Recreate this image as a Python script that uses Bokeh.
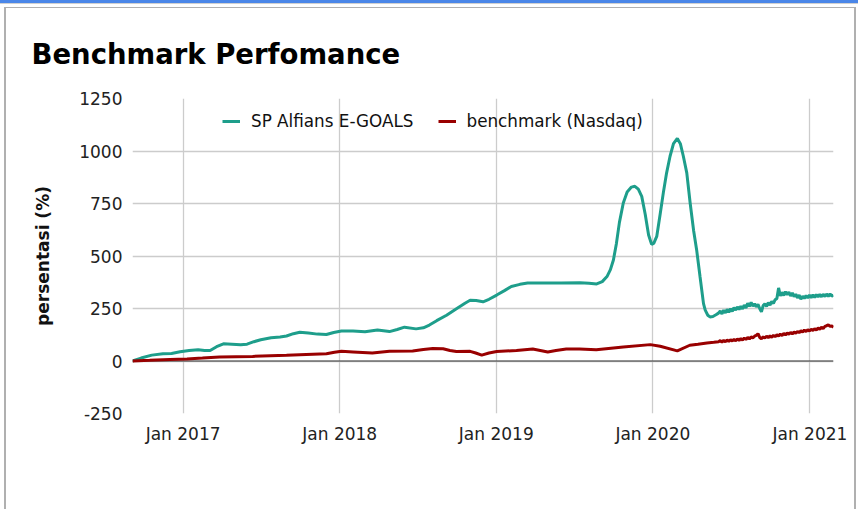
import pandas as pd
from bokeh.plotting import figure
from bokeh.models import (FixedTicker, DatetimeTickFormatter, Span, Legend, LegendItem)
from bokeh.embed import file_html
from bokeh.resources import INLINE

TITLE = "Benchmark Perfomance"
Y_LABEL = "persentasi (%)"
FUND_NAME = "SP Alfians E-GOALS"
BENCH_NAME = "benchmark (Nasdaq)"

Y_TICKS = [-250, 0, 250, 500, 750, 1000, 1250]
X_TICK_DATES = ["2017-01-01", "2018-01-01", "2019-01-01", "2020-01-01", "2021-01-01"]
X_START, X_END = "2016-09-05", "2021-02-25"

# fund, smooth part
fund_dates = [
    "2016-09-05", "2016-09-25", "2016-10-20", "2016-11-15", "2016-12-05", "2016-12-25",
    "2017-01-15", "2017-02-05", "2017-02-20", "2017-03-05", "2017-03-20", "2017-04-05",
    "2017-04-25", "2017-05-15", "2017-05-30", "2017-06-15", "2017-07-01", "2017-07-25",
    "2017-08-15", "2017-08-30", "2017-09-15", "2017-09-30", "2017-10-20", "2017-11-10",
    "2017-12-01", "2017-12-18", "2018-01-05", "2018-02-01", "2018-03-01", "2018-03-30",
    "2018-04-27", "2018-05-15", "2018-06-01", "2018-06-28", "2018-07-15", "2018-07-29",
    "2018-08-15", "2018-09-07", "2018-10-01", "2018-10-20", "2018-11-01", "2018-11-15",
    "2018-12-01", "2018-12-15", "2019-01-02", "2019-01-20", "2019-02-05", "2019-02-25",
    "2019-03-15", "2019-04-15", "2019-06-01", "2019-07-15", "2019-08-05", "2019-08-23",
    "2019-09-05", "2019-09-16", "2019-09-24", "2019-10-01", "2019-10-08", "2019-10-15",
    "2019-10-24", "2019-11-02", "2019-11-12", "2019-11-20", "2019-11-28", "2019-12-06",
    "2019-12-14", "2019-12-22", "2019-12-29", "2020-01-03", "2020-01-10", "2020-01-18",
    "2020-01-26", "2020-02-02", "2020-02-10", "2020-02-18", "2020-02-27", "2020-03-05",
    "2020-03-12", "2020-03-20", "2020-03-28", "2020-04-05", "2020-04-12", "2020-04-20",
    "2020-04-28", "2020-05-02", "2020-05-08", "2020-05-13", "2020-05-20", "2020-05-27",
]
fund_values = [
    0, 14, 28, 34, 36, 44,
    50, 54, 50, 50, 68, 82,
    80, 77, 80, 92, 101, 111,
    114, 119, 130, 137, 133, 128,
    126, 136, 143, 143, 139, 148,
    140, 150, 161, 153, 158, 171,
    192, 218, 250, 275, 289, 288,
    282, 294, 314, 335, 355, 365,
    371, 372, 372, 373, 370, 367,
    378, 402, 435, 481, 560, 660,
    752, 805, 828, 832, 818, 784,
    700, 600, 556, 560, 593, 700,
    810, 896, 975, 1035, 1060, 1035,
    975, 896, 750, 620, 529, 400,
    273, 242, 218, 210, 212, 220,
]
# fund, noisy part (Jun 2020 - Feb 2021), read every ~4 days
fund_noisy_values = [
    228, 238, 224, 242, 229, 246, 232, 249, 236, 254,
    242, 258, 245, 261, 248, 266, 253, 275, 260, 279,
    262, 272, 258, 270, 250, 234, 264, 272, 260, 278,
    266, 284, 274, 292, 298, 348, 310, 327, 312, 330,
    316, 328, 310, 324, 306, 318, 300, 314, 294, 308,
    298, 312, 300, 314, 302, 315, 303, 316, 305, 317,
    306, 318, 307, 319, 308, 320, 309, 314,
]

bench_dates = [
    "2016-09-05", "2016-10-15", "2016-12-01", "2017-01-10", "2017-02-15", "2017-03-27",
    "2017-06-12", "2017-08-30", "2017-10-15", "2017-12-01", "2017-12-20", "2018-01-05",
    "2018-02-01", "2018-03-18", "2018-04-27", "2018-06-20", "2018-07-15", "2018-08-06",
    "2018-08-30", "2018-09-15", "2018-09-30", "2018-11-01", "2018-11-14", "2018-11-28",
    "2018-12-15", "2019-01-02", "2019-02-17", "2019-03-27", "2019-05-01", "2019-05-20",
    "2019-06-13", "2019-07-14", "2019-08-22", "2019-10-24", "2019-12-26", "2020-01-18",
    "2020-02-27", "2020-03-27", "2020-04-15", "2020-05-06", "2020-05-22",
]
bench_values = [
    0, 3, 7, 10, 14, 19,
    22, 27, 31, 35, 42, 46,
    43, 38, 46, 48, 55, 59,
    58, 50, 45, 46, 38, 28,
    38, 45, 50, 57, 43, 50,
    57, 57, 54, 67, 78, 70,
    48, 75, 80, 86, 89,
]
bench_noisy_values = [
    92, 97, 90, 98, 92, 100, 93, 101, 95, 103,
    96, 105, 98, 107, 100, 109, 103, 112, 105, 115,
    110, 118, 122, 130, 112, 106, 115, 109, 118, 111,
    120, 113, 122, 116, 125, 119, 128, 121, 131, 124,
    134, 127, 136, 129, 138, 132, 141, 135, 144, 138,
    147, 140, 149, 143, 151, 145, 154, 148, 157, 151,
    161, 155, 165, 168, 172, 165, 167, 160,
]
NOISY_START, NOISY_END = "2020-06-02", "2021-02-25"

FUND_COLOR = "#1e9e8b"
BENCH_COLOR = "#990000"
FONT = "DejaVu Sans"

fund_x = list(pd.to_datetime(fund_dates)) + list(
    pd.date_range(NOISY_START, NOISY_END, periods=len(fund_noisy_values)))
fund_y = fund_values + fund_noisy_values
bench_x = list(pd.to_datetime(bench_dates)) + list(
    pd.date_range(NOISY_START, NOISY_END, periods=len(bench_noisy_values)))
bench_y = bench_values + bench_noisy_values

p = figure(width=858, height=509, x_axis_type="datetime",
           x_range=(pd.Timestamp(X_START), pd.Timestamp(X_END)),
           y_range=(Y_TICKS[0], Y_TICKS[-1]),
           output_backend="svg", toolbar_location=None,
           min_border_left=132, min_border_right=25, min_border_top=98, min_border_bottom=96)
p.outline_line_color = None
p.background_fill_color = "white"
p.border_fill_color = None
# page decoration behind the (transparent) canvas: top bar and card border
p.styles = {
    "background": (
        "linear-gradient(#4a86e8,#4a86e8) 0px 0px / 100% 3px no-repeat, "
        "linear-gradient(#d0d0d0,#d0d0d0) 0px 3px / 100% 1px no-repeat, "
        "linear-gradient(#b0b0b0,#b0b0b0) 4px 7px / 851px 1px no-repeat, "
        "linear-gradient(#b0b0b0,#b0b0b0) 4px 7px / 2px 100% no-repeat, "
        "linear-gradient(#b0b0b0,#b0b0b0) 854px 7px / 2px 100% no-repeat, "
        "#ffffff"
    )
}

p.title.text = TITLE
p.title.align = "left"
p.title.vertical_align = "bottom"
p.title.offset = -101
p.title.standoff = 58
p.title.text_font = FONT
p.title.text_font_style = "bold"
p.title.text_font_size = "27.5px"
p.title.text_color = "#000000"

p.xaxis.ticker = FixedTicker(ticks=[pd.Timestamp(d).value / 1e6 for d in X_TICK_DATES])
p.xaxis.formatter = DatetimeTickFormatter(years="%b %Y", months="%b %Y", days="%b %Y",
                                          hours="%b %Y", minutes="%b %Y", seconds="%b %Y")
p.yaxis.ticker = FixedTicker(ticks=Y_TICKS)
p.yaxis.major_label_overrides = {t: str(t) for t in Y_TICKS}
for ax in (p.xaxis, p.yaxis):
    ax.axis_line_color = None
    ax.major_tick_line_color = None
    ax.minor_tick_line_color = None
    ax.major_tick_out = 0
    ax.major_tick_in = 0
    ax.major_label_text_font = FONT
    ax.major_label_text_font_size = "17px"
    ax.major_label_text_color = "#222222"
    ax.major_label_standoff = 10
p.yaxis.axis_label = Y_LABEL
p.yaxis.axis_label_text_font = FONT
p.yaxis.axis_label_text_font_style = "bold"
p.yaxis.axis_label_text_font_size = "17px"
p.yaxis.axis_label_text_color = "#111111"
p.yaxis.axis_label_standoff = 23

for g in (p.xgrid, p.ygrid):
    g.grid_line_color = "#cccccc"
    g.grid_line_width = 1.3

zero = Span(location=0, dimension="width", line_color="#333333", line_width=1, level="underlay")
p.add_layout(zero)

r_fund = p.line(fund_x, fund_y, line_color=FUND_COLOR, line_width=3)
r_bench = p.line(bench_x, bench_y, line_color=BENCH_COLOR, line_width=3)

legend = Legend(items=[LegendItem(label=FUND_NAME, renderers=[r_fund]),
                       LegendItem(label=BENCH_NAME, renderers=[r_bench])],
                orientation="horizontal", location=(90, 282),
                padding=0, margin=0, spacing=24, glyph_width=18, label_standoff=11,
                label_text_font=FONT, label_text_font_size="16.8px", label_text_color="#111111",
                border_line_color=None, background_fill_alpha=0)
p.add_layout(legend, "center")

open("out.html", "w").write(file_html(p, INLINE))
